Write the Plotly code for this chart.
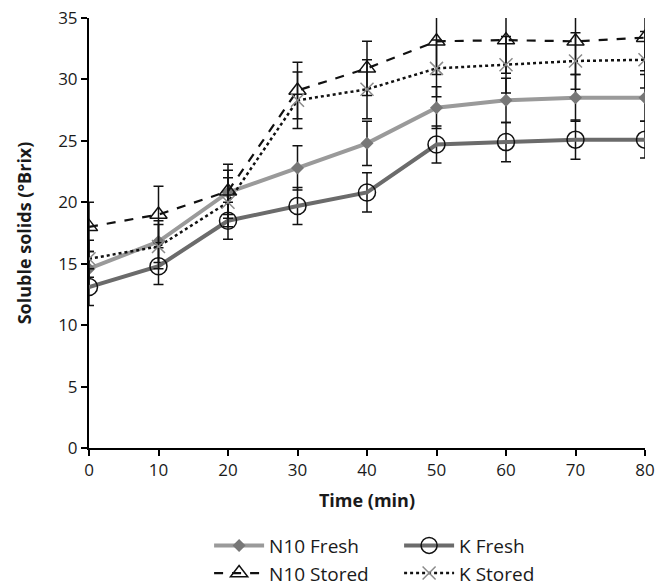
import plotly.graph_objects as go

time_min = [0, 10, 20, 30, 40, 50, 60, 70, 80]

n10_fresh = [14.6, 16.8, 20.8, 22.8, 24.8, 27.7, 28.3, 28.5, 28.5]
n10_fresh_err = [1.4, 1.7, 1.8, 1.8, 1.8, 1.7, 1.8, 1.9, 1.9]

k_fresh = [13.1, 14.8, 18.5, 19.7, 20.8, 24.7, 24.9, 25.1, 25.1]
k_fresh_err = [1.5, 1.5, 1.5, 1.5, 1.6, 1.5, 1.6, 1.6, 1.5]

n10_stored = [18.0, 19.0, 20.9, 29.1, 30.9, 33.1, 33.2, 33.1, 33.4]
n10_stored_err = [2.0, 2.3, 2.2, 2.3, 2.2, 2.7, 2.7, 2.7, 2.7]

k_stored = [15.4, 16.4, 20.0, 28.3, 29.2, 30.9, 31.2, 31.5, 31.6]
k_stored_err = [1.5, 1.8, 2.0, 2.3, 2.4, 2.3, 2.3, 2.3, 2.3]

y_ticks = [0, 5, 10, 15, 20, 25, 30, 35]

FONT = "Open Sans"

def eb(vals):
    return dict(type="data", array=vals, visible=True, color="#111111",
                thickness=1.5, width=5)

fig = go.Figure()

fig.add_trace(go.Scatter(
    x=time_min, y=n10_fresh, name="N10 Fresh", mode="lines+markers",
    line=dict(color="#9a9a9a", width=4),
    marker=dict(symbol="diamond", size=10, color="#777777"),
    error_y=eb(n10_fresh_err)))

fig.add_trace(go.Scatter(
    x=time_min, y=k_fresh, name="K Fresh", mode="lines+markers",
    line=dict(color="#6b6b6b", width=4),
    marker=dict(symbol="circle-open", size=17, color="#111111",
                line=dict(width=1.5)),
    error_y=eb(k_fresh_err)))

fig.add_trace(go.Scatter(
    x=time_min, y=n10_stored, name="N10 Stored", mode="lines+markers",
    line=dict(color="#111111", width=2.2, dash="dash"),
    marker=dict(symbol="triangle-up-open", size=15, color="#111111",
                line=dict(width=1.5)),
    error_y=eb(n10_stored_err)))

fig.add_trace(go.Scatter(
    x=time_min, y=k_stored, name="K Stored", mode="lines+markers",
    line=dict(color="#111111", width=2.5, dash="dot"),
    marker=dict(symbol="x-thin-open", size=13, color="#8a8a8a",
                line=dict(width=1.5, color="#8a8a8a")),
    error_y=eb(k_stored_err)))

fig.update_layout(
    width=665, height=587,
    margin=dict(l=89, r=20, t=18, b=139),
    plot_bgcolor="white", paper_bgcolor="white",
    font=dict(family=FONT, size=17, color="#1a1a1a"),
    showlegend=True,
    legend=dict(orientation="h", xref="paper", x=0.216, xanchor="left",
                yref="container", y=0.103, yanchor="top",
                entrywidth=125, entrywidthmode="pixels",
                font=dict(family=FONT, size=19, color="#1a1a1a"),
                itemwidth=50, tracegroupgap=0),
)

fig.update_xaxes(
    range=[0, 80], tickvals=time_min, showgrid=False, zeroline=False,
    showline=True, linecolor="black", linewidth=2, automargin=False,
    ticks="outside", ticklen=6, tickcolor="black", tickwidth=1.5,
    tickfont=dict(family=FONT, size=17),
    title=dict(text="<b>Time (min)</b>", font=dict(family=FONT, size=18), standoff=14),
)
fig.update_yaxes(
    range=[0, 35], tickvals=y_ticks, showgrid=False,
    zeroline=False, showline=True, linecolor="black", linewidth=2, automargin=False,
    ticks="outside", ticklen=6, tickcolor="black", tickwidth=1.5,
    tickfont=dict(family=FONT, size=17),
    title=dict(text="<b>Soluble solids (°Brix)</b>", font=dict(family=FONT, size=18), standoff=22),
)

fig.write_html("out.html", config={"displayModeBar": False},
               post_script="document.body.style.margin='0';")
